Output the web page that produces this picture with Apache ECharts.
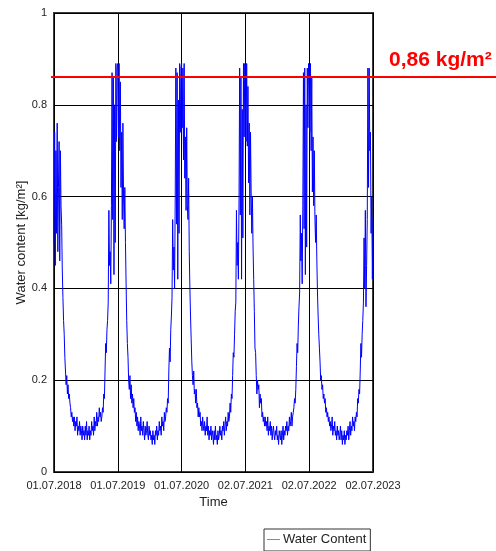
<!DOCTYPE html>
<html>
<head>
<meta charset="utf-8">
<script src="https://cdn.jsdelivr.net/npm/echarts@6/dist/echarts.min.js"></script>
<style>
  html, body { margin: 0; padding: 0; background: #fff; }
  #chart { width: 496px; height: 551px; }
</style>
</head>
<body>
<div id="chart"></div>
<script>
// Water content time series, sampled every 1/100 year starting 01.07.2018
const X_TICK_LABELS = ['01.07.2018', '01.07.2019', '01.07.2020', '02.07.2021', '02.07.2022', '02.07.2023'];
const SAMPLES_PER_YEAR = 100;

const WC_2018 = [
  0.50,0.74,0.45,0.70,0.52,0.76,0.48,0.62,0.72,0.46,0.70,0.58,0.54,0.44,
  0.38,0.33,0.30,0.25,0.22,0.19,0.21,0.17,0.19,0.16,0.17,0.15,0.14,0.12,0.13,0.11,0.12,
  0.10,0.12,0.09,0.11,0.10,0.12,0.08,0.10,0.09,0.11,0.08,0.10,0.09,0.07,0.10,0.08,0.09,0.07,0.10,0.08,
  0.11,0.07,0.09,0.08,0.10,0.07,0.09,0.08,0.11,0.09,0.10,0.08,0.12,0.09,0.11,0.10,0.13,0.10,0.12,0.11,
  0.14,0.12,0.13,0.11,0.12,
  0.14,0.13,0.17,0.16,0.22,0.28,0.26,0.31,0.33,0.37,0.57,0.45,0.48,0.41,0.58,0.87,0.55,0.86,0.43,0.80,
  0.50,0.89,0.72,0.88
];
const WC_2019 = [
  0.89,0.73,0.89,0.70,0.85,0.62,0.74,0.55,0.76,0.60,0.53,0.62,0.50,0.41,
  0.33,0.28,0.25,0.20,0.18,0.21,0.16,0.19,0.15,0.17,0.14,0.16,0.13,0.14,0.11,0.13,0.10,
  0.12,0.09,0.11,0.10,0.08,0.12,0.09,0.10,0.08,0.11,0.09,0.07,0.10,0.08,0.09,0.11,0.08,0.07,0.10,0.08,
  0.09,0.07,0.08,0.06,0.09,0.07,0.08,0.06,0.09,0.08,0.10,0.07,0.09,0.08,0.11,0.09,0.10,0.08,0.12,0.10,
  0.11,0.09,0.13,0.11,0.12,
  0.14,0.13,0.16,0.15,0.22,0.27,0.24,0.31,0.34,0.38,0.55,0.44,0.49,0.40,0.60,0.88,0.54,0.87,0.42,0.81,
  0.52,0.89,0.74,0.88
];
const WC_2020 = [
  0.89,0.75,0.88,0.68,0.89,0.64,0.73,0.57,0.75,0.58,0.55,0.64,0.48,0.40,
  0.34,0.29,0.24,0.21,0.19,0.22,0.17,0.18,0.15,0.18,0.14,0.15,0.12,0.14,0.12,0.13,0.10,
  0.11,0.09,0.12,0.10,0.09,0.11,0.08,0.10,0.09,0.12,0.08,0.10,0.07,0.09,0.08,0.10,0.07,0.09,0.08,0.06,
  0.09,0.07,0.10,0.07,0.08,0.06,0.09,0.07,0.08,0.10,0.08,0.09,0.07,0.10,0.09,0.11,0.08,0.10,0.12,0.09,
  0.11,0.10,0.13,0.11,0.12,
  0.15,0.13,0.17,0.16,0.21,0.26,0.25,0.30,0.35,0.37,0.57,0.45,0.50,0.42,0.59,0.88,0.56,0.86,0.42,0.79,
  0.51,0.89,0.73,0.89
];
const WC_2021 = [
  0.89,0.72,0.89,0.71,0.84,0.63,0.76,0.56,0.74,0.61,0.52,0.60,0.49,0.42,
  0.35,0.27,0.26,0.21,0.17,0.20,0.18,0.19,0.14,0.17,0.15,0.16,0.12,0.13,0.11,0.12,0.10,
  0.12,0.10,0.11,0.09,0.12,0.08,0.10,0.09,0.11,0.08,0.10,0.07,0.09,0.10,0.08,0.07,0.09,0.08,0.10,0.07,
  0.08,0.06,0.09,0.08,0.07,0.09,0.06,0.08,0.10,0.07,0.09,0.08,0.10,0.09,0.11,0.08,0.10,0.09,0.12,0.10,
  0.11,0.13,0.10,0.12,0.13,
  0.14,0.16,0.15,0.18,0.23,0.28,0.26,0.32,0.36,0.39,0.56,0.46,0.52,0.41,0.58,0.87,0.53,0.88,0.43,0.80,
  0.49,0.88,0.75,0.89
];
const WC_2022 = [
  0.88,0.74,0.89,0.70,0.86,0.61,0.73,0.58,0.70,0.55,0.50,0.56,0.46,0.39,
  0.34,0.30,0.27,0.24,0.20,0.21,0.18,0.19,0.16,0.17,0.15,0.16,0.13,0.14,0.12,0.13,0.11,
  0.12,0.10,0.11,0.09,0.10,0.12,0.08,0.10,0.09,0.11,0.08,0.09,0.07,0.10,0.08,0.09,0.07,0.08,0.10,0.07,
  0.09,0.06,0.08,0.07,0.09,0.06,0.08,0.07,0.09,0.08,0.10,0.07,0.09,0.11,0.08,0.10,0.09,0.12,0.10,0.11,
  0.09,0.12,0.11,0.13,0.12,
  0.16,0.15,0.18,0.17,0.22,0.28,0.25,0.30,0.33,0.37,0.51,0.40,0.57,0.36,0.45,0.55,0.88,0.62,0.88,0.70,
  0.74,0.52,0.60,0.42
];
const WC_2023 = [0.55];

// Limit value marked in red
const LIMIT_VALUE = 0.86;
const LIMIT_LABEL = '0,86 kg/m²';

const FONT = '"Liberation Sans", Arial, sans-serif';

const seriesData = [];
[WC_2018, WC_2019, WC_2020, WC_2021, WC_2022, WC_2023].forEach(function (year, y) {
  year.forEach(function (v, i) {
    seriesData.push([y + i / SAMPLES_PER_YEAR, v]);
  });
});

const chart = echarts.init(document.getElementById('chart'), null, { renderer: 'canvas' });

chart.setOption({
  animation: false,
  backgroundColor: '#ffffff',
  textStyle: { fontFamily: FONT },
  grid: {
    left: 54, right: 123, top: 13, bottom: 79,
    show: true, borderColor: '#3a3a3a', borderWidth: 2, backgroundColor: 'transparent'
  },
  xAxis: {
    type: 'value', min: 0, max: 5, interval: 1,
    name: 'Time', nameLocation: 'middle', nameGap: 24, nameMoveOverlap: false,
    nameTextStyle: { fontSize: 13, color: '#222', fontFamily: FONT },
    axisLine: { show: false },
    axisTick: { show: false },
    axisLabel: {
      margin: 8, fontSize: 11, color: '#222', fontFamily: FONT,
      formatter: function (v) { return X_TICK_LABELS[Math.round(v)]; }
    },
    splitLine: { show: true, lineStyle: { color: '#000', width: 1 } }
  },
  yAxis: {
    type: 'value', min: 0, max: 1, interval: 0.2,
    name: 'Water content [kg/m²]', nameLocation: 'middle', nameGap: 26, nameMoveOverlap: false,
    nameTextStyle: { fontSize: 13, color: '#222', fontFamily: FONT },
    axisLine: { show: false },
    axisTick: { show: false },
    axisLabel: { margin: 7, fontSize: 11, color: '#222', fontFamily: FONT },
    splitLine: { show: true, lineStyle: { color: '#000', width: 1 } }
  },
  legend: {
    left: 264, top: 529,
    padding: [4, 4, 5, 3],
    borderColor: '#333', borderWidth: 1,
    itemWidth: 13, itemHeight: 1, itemGap: 4,
    textStyle: { fontSize: 13, color: '#222', fontFamily: FONT, padding: [0, 0, 0, -2] },
    data: [{ name: 'Water Content', icon: 'rect', itemStyle: { color: '#7b7bff' } }]
  },
  series: [{
    name: 'Water Content',
    type: 'line',
    symbol: 'none',
    data: seriesData,
    lineStyle: { color: '#0000ff', width: 1 },
    itemStyle: { color: '#0000ff' }
  }]
});

// Red limit line across the plot and its label, placed via the y scale
const yLimit = Math.round(chart.convertToPixel({ yAxisIndex: 0 }, LIMIT_VALUE));
chart.setOption({
  graphic: [
    {
      type: 'line', z: 100,
      shape: { x1: 51, y1: yLimit, x2: 496, y2: yLimit },
      style: { stroke: '#ff0000', lineWidth: 2 }
    },
    {
      type: 'text', z: 100,
      x: 389, y: yLimit - 6,
      style: {
        text: LIMIT_LABEL, fill: '#ff0000',
        font: 'bold 21px ' + FONT, verticalAlign: 'bottom', align: 'left'
      }
    }
  ]
});
</script>
</body>
</html>
